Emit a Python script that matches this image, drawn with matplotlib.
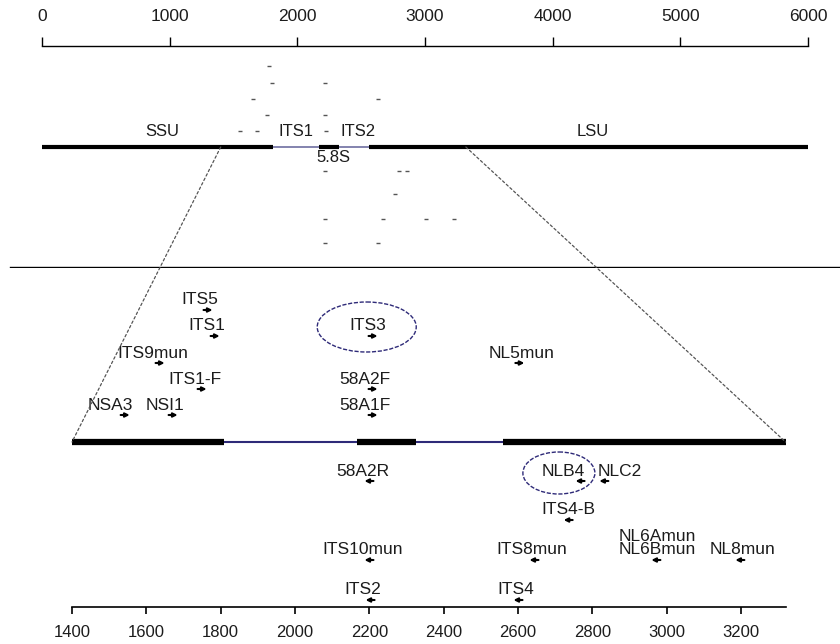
import numpy as np
import matplotlib
matplotlib.use('Agg')
import matplotlib.pyplot as plt
from matplotlib.patches import Ellipse, ConnectionPatch

plt.rcParams['font.family'] = ['Liberation Sans', 'DejaVu Sans']
txt_col = '#1c1c1c'
fs = 12.5

# rDNA regions (bp): SSU, ITS1, 5.8S, ITS2, LSU
reg_names = ['SSU', 'ITS1', '5.8S', 'ITS2', 'LSU']
reg_start = [0, 1810, 2168, 2325, 2560]
reg_end = [1810, 2168, 2325, 2560, 6000]
reg_coding = [True, False, True, False, True]
reg_label_x = [940, 1990, 2280, 2475, 4316]

# top overview: primer ticks (bp, row)
top_tick_bp = [1778, 1802, 2217, 1653, 2632, 1762, 2217, 1551, 1684, 2225,
               2217, 2796, 2859, 2765, 2217, 2671, 3008, 3227, 2217, 2632]
top_tick_row = [66, 83, 83, 99, 99, 115, 115, 131, 131, 131,
                171, 171, 171, 194, 219, 219, 219, 219, 243, 243]

# zoomed region: primers
primers = ['ITS5', 'ITS1', 'ITS9mun', 'ITS1-F', 'NSA3', 'NSI1', 'ITS3', '58A2F', '58A1F', 'NL5mun',
           '58A2R', 'NLB4', 'NLC2', 'ITS4-B', 'NL6Amun\nNL6Bmun', 'NL8mun', 'ITS10mun', 'ITS8mun', 'ITS2', 'ITS4']
primer_bp = [1766, 1785, 1637, 1750, 1543, 1672, 2210, 2210, 2210, 2605,
             2199, 2767, 2831, 2735, 2971, 3197, 2199, 2643, 2202, 2600]
forward = [True] * 10 + [False] * 10
primer_row = [310, 336, 363, 389, 415, 415, 336, 389, 415, 363,
              481, 481, 481, 520, 560, 560, 560, 560, 600, 600]
label_dx = [-8, -8, -7, -7, -15, -8, -5, -8, -8, 2,
            -6, -17, 16, 0, 1, 3, -6, -2, -7, -2]

W, H = 840, 644
fig = plt.figure(figsize=(W / 100, H / 100), dpi=100)

# ---- top panel: whole rDNA, 0..6000 bp
px_top = 766 / 6000.
ax1 = fig.add_axes([0, (H - 268) / H, 1, 268 / H])
ax1.set_xlim(-42 / px_top, (W - 42) / px_top)
ax1.set_ylim(268, 0)
for s in ['left', 'right', 'bottom']:
    ax1.spines[s].set_visible(False)
ax1.spines['top'].set_position(('data', 46))
ax1.spines['top'].set_bounds(0, 6000)
ax1.spines['top'].set_linewidth(1.0)
ax1.xaxis.set_ticks_position('top')
ax1.set_xticks(np.arange(0, 6001, 1000))
ax1.tick_params(axis='x', direction='out', length=6.5, width=1.0, pad=9,
                labelsize=fs, labelcolor=txt_col)
ax1.set_yticks([])

bar_y1 = 147
for s0, s1, cod in zip(reg_start, reg_end, reg_coding):
    if cod:
        ax1.plot([s0, s1], [bar_y1, bar_y1], color='k', lw=3, solid_capstyle='butt')
    else:
        ax1.plot([s0, s1], [bar_y1, bar_y1], color='#7a7aa8', lw=1.3, solid_capstyle='butt')
for name, lx in zip(reg_names, reg_label_x):
    ly = 157 if name == '5.8S' else 131
    ax1.text(lx, ly, name, ha='center', va='center', fontsize=fs - 0.5, color=txt_col)

ax1.plot(top_tick_bp, top_tick_row, linestyle='none', marker='_', markersize=3.5,
         mew=1.0, color='#555555')

# separator
ax1.plot([-32 / px_top, (W - 42) / px_top], [267, 267], color='k', lw=1.0, clip_on=False)

# ---- bottom panel: zoom 1400..3300 bp
px_bot = 669 / 1800.
x0_bot = 1400 - 72 / px_bot
ax2 = fig.add_axes([0, 0, 1, (H - 268) / H])
ax2.set_xlim(x0_bot, x0_bot + W / px_bot)
ax2.set_ylim(H, 268)
for s in ['left', 'right', 'top']:
    ax2.spines[s].set_visible(False)
ax2.spines['bottom'].set_position(('data', 607))
ax2.spines['bottom'].set_bounds(1400, 3320)
ax2.spines['bottom'].set_linewidth(1.2)
ax2.set_xticks(np.arange(1400, 3201, 200))
ax2.tick_params(axis='x', direction='out', length=5, width=1.2, pad=8,
                labelsize=fs - 0.5, labelcolor=txt_col)
ax2.set_yticks([])

bar_y2 = 442
for s0, s1, cod in zip(reg_start, reg_end, reg_coding):
    s0, s1 = max(s0, 1400), min(s1, 3320)
    if cod:
        ax2.plot([s0, s1], [bar_y2, bar_y2], color='k', lw=4.5, solid_capstyle='butt')
    else:
        ax2.plot([s0, s1], [bar_y2, bar_y2], color='#2e2a78', lw=1.5, solid_capstyle='butt')

half = 4.5 / px_bot
for name, bp, fwd, row, dx in zip(primers, primer_bp, forward, primer_row, label_dx):
    tail, head = (bp - half, bp + half) if fwd else (bp + half, bp - half)
    ax2.annotate('', xy=(head, row), xytext=(tail, row),
                 arrowprops=dict(arrowstyle='-|>', color='k', lw=1.5, mutation_scale=6,
                                 shrinkA=0, shrinkB=0))
    ax2.text(bp + dx / px_bot, row - 5.5, name, ha='center', va='baseline',
             fontsize=fs, color=txt_col, linespacing=0.9)

# circled primers
ell_style = dict(fill=False, ec='#2e2a78', lw=1.0, linestyle=(0, (3, 1.2)))
ax2.add_patch(Ellipse((2193, 327), 99 / px_bot, 50, **ell_style))
ax2.add_patch(Ellipse((2710, 473), 72 / px_bot, 42, **ell_style))

# dashed zoom guides
for bp in [1400, 3320]:
    con = ConnectionPatch(xyA=(bp, bar_y1), coordsA=ax1.transData,
                          xyB=(bp, bar_y2), coordsB=ax2.transData,
                          linestyle=(0, (2, 2)), color='#555555', lw=0.9)
    fig.add_artist(con)

fig.savefig('out.png', dpi=100)
